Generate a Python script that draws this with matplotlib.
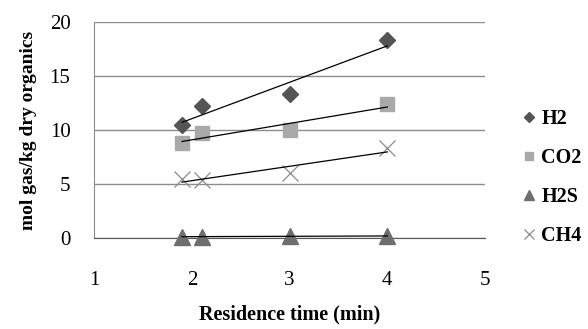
import numpy as np
import matplotlib
matplotlib.use("Agg")
import matplotlib.pyplot as plt

plt.rcParams['font.family'] = ['Liberation Serif', 'DejaVu Serif']

# residence time (min)
t = [1.9, 2.1, 3.0, 4.0]
h2 = [10.5, 12.2, 13.3, 18.3]
co2 = [8.8, 9.7, 10.0, 12.4]
h2s = [0.1, 0.1, 0.2, 0.15]
ch4 = [5.5, 5.4, 6.0, 8.3]

fig = plt.figure(figsize=(5.88, 3.29), dpi=100)
ax = fig.add_axes([0.16, 0.277, 0.665, 0.656])

series = [
    ("H2", h2, "D", "#555555", 8.5),
    ("CO2", co2, "s", "#a9a9a9", 10),
    ("H2S", h2s, "^", "#6e6e6e", 11),
    ("CH4", ch4, "x", "#8a8a8a", 11),
]
for name, vals, mk, col, sz in series:
    ax.plot(t, vals, linestyle="none", marker=mk, color=col, markersize=sz,
            markeredgewidth=0.9 if mk == "x" else 1.0, label=name,
            zorder=3, clip_on=False)
    # linear trend line
    k, b = np.polyfit(t, vals, 1)
    xs = np.array([min(t), max(t)])
    ax.plot(xs, k * xs + b, color="black", lw=0.9, zorder=4, clip_on=False)

ax.set_xlim(1, 5)
ax.set_ylim(0, 20)
ax.set_xticks([1, 2, 3, 4, 5])
ax.set_yticks([0, 5, 10, 15, 20])
ax.yaxis.grid(True, color="#8c8c8c", lw=1)
ax.set_axisbelow(True)
for s in ["top", "right"]:
    ax.spines[s].set_visible(False)
ax.spines["left"].set_color("#8c8c8c")
ax.spines["bottom"].set_color("#555555")
ax.tick_params(length=0, labelsize=15)
ax.tick_params(axis="x", pad=24)
ax.tick_params(axis="y", pad=17)

ax.set_xlabel("Residence time (min)", fontsize=14.5, fontweight="bold", labelpad=10)
ax.set_ylabel("mol gas/kg dry organics", fontsize=14, fontweight="bold", labelpad=9)

leg = ax.legend(loc="center left", bbox_to_anchor=(1.0, 0.28), frameon=False,
                handletextpad=0.0, handlelength=1.2, labelspacing=0.95,
                borderaxespad=1.2, markerscale=0.6,
                prop={"weight": "bold", "size": 14.5})

fig.savefig("out.png", dpi=100)
